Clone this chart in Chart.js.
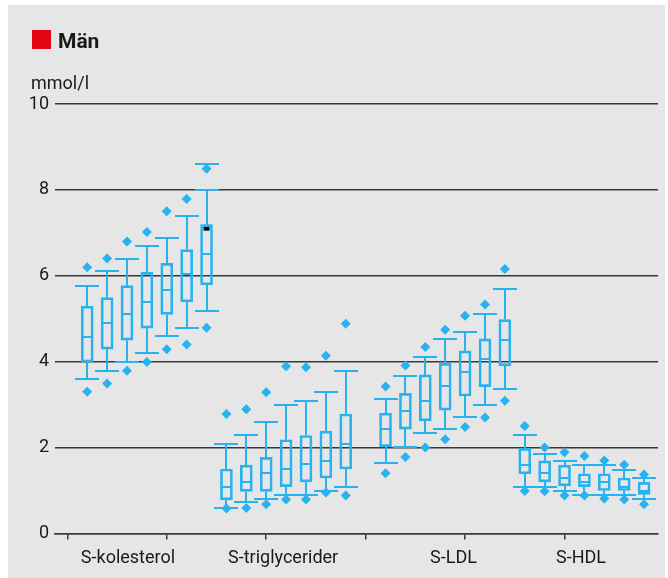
<!DOCTYPE html>
<html>
<head>
<meta charset="utf-8">
<script src="https://cdn.jsdelivr.net/npm/chart.js@4.4.1/dist/chart.umd.min.js"></script>
<style>
  html, body { margin: 0; padding: 0; background: #fff; }
  #wrap { width: 668px; height: 578px; }
</style>
</head>
<body>
<div id="wrap"><canvas id="grafica" width="668" height="578"></canvas></div>
<script>
// Grupper på x-axeln och var deras etiketter sitter
const gruppNamn = ['S-kolesterol', 'S-triglycerider', 'S-LDL', 'S-HDL'];
const gruppLagen = [3.05, 10.85, 19.42, 25.83];
const tickLagen = [0, 5, 10, 15, 20, 25];
const yTicks = [0, 2, 4, 6, 8, 10];

// En låda per åldersgrupp, 7 per analys (tom plats mellan triglycerider och LDL)
const positioner = [1, 2, 3, 4, 5, 6, 7,
                    8, 9, 10, 11, 12, 13, 14,
                    16, 17, 18, 19, 20, 21, 22,
                    23, 24, 25, 26, 27, 28, 29];

const morrharLag = [3.60, 3.79, 4.00, 4.19, 4.59, 4.78, 5.19,
                    0.58, 0.73, 0.79, 0.89, 0.89, 0.98, 1.09,
                    1.64, 2.02, 2.34, 2.43, 2.72, 2.98, 3.36,
                    1.09, 1.09, 0.98, 0.89, 0.89, 0.89, 0.79];
const kvartil1 = [3.99, 4.29, 4.50, 4.78, 5.10, 5.39, 5.79,
                  0.78, 0.98, 0.98, 1.09, 1.20, 1.29, 1.50,
                  2.02, 2.43, 2.62, 2.87, 3.20, 3.42, 3.90,
                  1.39, 1.20, 1.11, 1.09, 1.00, 1.00, 0.91];
const medianer = [4.57, 4.89, 5.10, 5.39, 5.68, 6.04, 6.50,
                  1.09, 1.19, 1.40, 1.49, 1.61, 1.69, 2.09,
                  2.43, 2.84, 3.08, 3.43, 3.76, 4.05, 4.50,
                  1.59, 1.40, 1.29, 1.20, 1.20, 1.09, 0.99];
const kvartil3 = [5.29, 5.49, 5.77, 6.08, 6.29, 6.61, 7.19,
                  1.50, 1.59, 1.77, 2.18, 2.28, 2.38, 2.78,
                  2.80, 3.26, 3.69, 3.96, 4.25, 4.53, 4.98,
                  1.98, 1.69, 1.59, 1.39, 1.39, 1.29, 1.19];
const morrharHog = [5.77, 6.10, 6.39, 6.69, 6.89, 7.40, 8.00,
                    2.09, 2.29, 2.59, 2.99, 3.09, 3.29, 3.78,
                    3.14, 3.67, 4.10, 4.52, 4.68, 5.12, 5.70,
                    2.29, 1.86, 1.68, 1.59, 1.59, 1.47, 1.30];
const extremLag = [3.30, 3.49, 3.79, 3.99, 4.29, 4.40, 4.79,
                   0.58, 0.59, 0.68, 0.79, 0.79, 0.95, 0.88,
                   1.40, 1.78, 2.00, 2.19, 2.48, 2.70, 3.09,
                   0.99, 0.98, 0.88, 0.88, 0.81, 0.79, 0.68];
const extremHog = [6.20, 6.40, 6.80, 7.02, 7.50, 7.79, 8.49,
                   2.78, 2.89, 3.29, 3.89, 3.87, 4.14, 4.88,
                   3.42, 3.91, 4.34, 4.74, 5.07, 5.33, 6.16,
                   2.50, 2.00, 1.89, 1.80, 1.70, 1.60, 1.37];

// Lösa detaljer i sista kolesterol-lådan
const losTakPos = [7];
const losTakVarde = [8.6];
const markorPos = [7];
const markorVarde = [7.12];

const bla = '#29b2f0';
const linjeFarg = '#383838';
const textFarg = '#1a1a1a';
const typsnitt = 'Roboto';

// Grå bakgrund, rubrik och enhet
const ramPlugin = {
    id: 'ram',
    beforeDraw(chart) {
        const ctx = chart.ctx;
        ctx.save();
        ctx.fillStyle = '#e6e6e6';
        ctx.fillRect(8, 5, 657, 573);
        ctx.restore();
    },
    afterDraw(chart) {
        const ctx = chart.ctx;
        ctx.save();
        ctx.fillStyle = '#e30613';
        ctx.fillRect(32, 30, 19, 19);
        ctx.fillStyle = textFarg;
        ctx.textBaseline = 'alphabetic';
        ctx.font = 'bold 21px ' + typsnitt;
        ctx.fillText('Män', 58, 48);
        ctx.font = '18px ' + typsnitt;
        ctx.fillText('mmol/l', 31, 89);
        ctx.restore();
    }
};

// Morrhår, tak och medianlinjer
const morrharPlugin = {
    id: 'morrhar',
    afterDatasetsDraw(chart) {
        const { ctx, scales: { x, y } } = chart;
        ctx.save();
        ctx.strokeStyle = bla;
        ctx.lineWidth = 2;
        const linje = (x1, y1, x2, y2) => {
            ctx.beginPath();
            ctx.moveTo(x1, y1);
            ctx.lineTo(x2, y2);
            ctx.stroke();
        };
        positioner.forEach((p, i) => {
            const px = Math.round(x.getPixelForValue(p));
            const yLag = Math.round(y.getPixelForValue(morrharLag[i]));
            const yQ1 = y.getPixelForValue(kvartil1[i]);
            const yMed = Math.round(y.getPixelForValue(medianer[i]));
            const yQ3 = y.getPixelForValue(kvartil3[i]);
            const yHog = Math.round(y.getPixelForValue(morrharHog[i]));
            linje(px, yLag, px, yQ1);
            linje(px, yQ3, px, yHog);
            linje(px - 12, yLag, px + 12, yLag);
            linje(px - 12, yHog, px + 12, yHog);
            linje(px - 5, yMed, px + 5, yMed);
        });
        losTakPos.forEach((p, i) => {
            const px = Math.round(x.getPixelForValue(p));
            const py = Math.round(y.getPixelForValue(losTakVarde[i]));
            linje(px - 12, py, px + 12, py);
        });
        ctx.restore();
    }
};

const ctx = document.getElementById('grafica').getContext('2d');

new Chart(ctx, {
    type: 'bar',
    data: {
        datasets: [{
            type: 'bar',
            data: positioner.map((p, i) => ({ x: p, y: [kvartil1[i], kvartil3[i]] })),
            backgroundColor: 'rgba(0,0,0,0)',
            borderColor: bla,
            borderWidth: 2,
            borderSkipped: false,
            barThickness: 12
        }, {
            type: 'scatter',
            data: positioner.map((p, i) => ({ x: p, y: extremHog[i] })),
            pointStyle: 'rectRot',
            pointRadius: 5,
            pointBorderWidth: 0,
            pointBackgroundColor: bla
        }, {
            type: 'scatter',
            data: positioner.map((p, i) => ({ x: p, y: extremLag[i] })),
            pointStyle: 'rectRot',
            pointRadius: 5,
            pointBorderWidth: 0,
            pointBackgroundColor: bla
        }, {
            type: 'scatter',
            data: markorPos.map((p, i) => ({ x: p, y: markorVarde[i] })),
            pointStyle: 'rect',
            pointRadius: 5,
            pointBorderWidth: 1,
            pointBorderColor: '#ffffff',
            pointBackgroundColor: '#000000'
        }]
    },
    options: {
        responsive: false,
        animation: false,
        layout: {
            padding: { left: 0, right: 10, top: 104, bottom: 1 }
        },
        plugins: {
            legend: { display: false },
            tooltip: { enabled: false }
        },
        scales: {
            x: {
                type: 'linear',
                min: -0.62,
                max: 29.7,
                offset: false,
                weight: 0,
                afterBuildTicks: (s) => { s.ticks = tickLagen.map(v => ({ value: v })); },
                grid: {
                    offset: false,
                    drawOnChartArea: false,
                    drawTicks: true,
                    tickLength: 6,
                    color: linjeFarg,
                    lineWidth: 1.5
                },
                border: { display: true, color: linjeFarg, width: 1.5 },
                ticks: { display: false }
            },
            xl: {
                type: 'linear',
                position: 'bottom',
                min: -0.62,
                max: 29.7,
                offset: false,
                weight: 1,
                afterBuildTicks: (s) => { s.ticks = gruppLagen.map(v => ({ value: v })); },
                grid: { display: false, drawTicks: false },
                border: { display: false },
                ticks: {
                    autoSkip: false,
                    maxRotation: 0,
                    padding: 8,
                    color: textFarg,
                    font: { family: typsnitt, size: 18 },
                    callback: (v, i) => gruppNamn[i]
                }
            },
            y: {
                min: 0,
                max: 10,
                afterBuildTicks: (s) => { s.ticks = yTicks.map(v => ({ value: v })); },
                afterFit: (s) => { s.width = 55; },
                grid: {
                    drawTicks: false,
                    color: linjeFarg,
                    lineWidth: 1.5
                },
                border: { display: false },
                ticks: {
                    padding: 6,
                    color: textFarg,
                    font: { family: typsnitt, size: 18 }
                }
            }
        }
    },
    plugins: [ramPlugin, morrharPlugin]
});
</script>
</body>
</html>
